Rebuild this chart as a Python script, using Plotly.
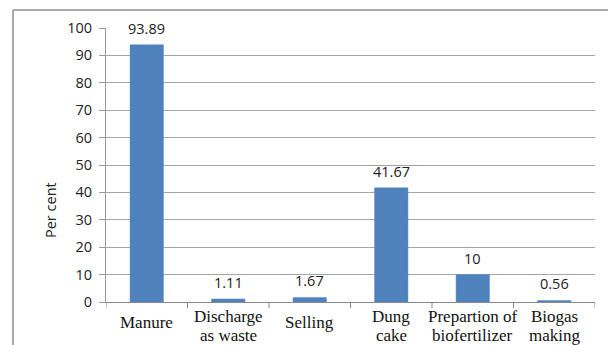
import plotly.graph_objects as go

categories = ["Manure", "Discharge<br>as waste", "Selling", "Dung<br>cake",
              "Prepartion of<br>biofertilizer", "Biogas<br>making"]
values = [93.89, 1.11, 1.67, 41.67, 10, 0.56]
value_labels = ["93.89", "1.11", "1.67", "41.67", "10", "0.56"]
y_ticks = [0, 10, 20, 30, 40, 50, 60, 70, 80, 90, 100]

W, H = 608, 345
L, R, T, B = 106, 13, 28, 43
pw, ph = W - L - R, H - T - B

fig = go.Figure()
fig.add_trace(go.Bar(
    x=list(range(len(categories))), y=values, width=0.41,
    marker=dict(color="#4f81bd", line=dict(color="#5b8cc6", width=0.5)),
    hoverinfo="skip", showlegend=False,
))
for i, (v, lab) in enumerate(zip(values, value_labels)):
    fig.add_annotation(x=i, y=v, text=lab, showarrow=False, yanchor="bottom",
                       yshift=5, font=dict(family="Open Sans", size=14.5, color="#222"))

# category labels, drawn line by line for tight line spacing
catfont = dict(family="Liberation Serif", size=17, color="#111")
for i, cat in enumerate(categories):
    lines = cat.split("<br>")
    if len(lines) == 1:
        centers = [322]
    else:
        centers = [316.5, 335]
    for ln, cy in zip(lines, centers):
        fig.add_annotation(x=i, xref="x", yref="paper", y=(302 - cy) / ph, text=ln,
                           showarrow=False, xanchor="center", yanchor="middle",
                           font=catfont)

fig.update_layout(
    width=W, height=H, margin=dict(l=L, r=R, t=T, b=B, pad=0),
    paper_bgcolor="white", plot_bgcolor="white",
    bargap=0.59,
)
fig.update_xaxes(
    tickmode="array", tickvals=list(range(len(categories))),
    ticktext=[""] * len(categories),
    range=[-0.5, len(categories) - 0.5], automargin=False,
    showline=True, linecolor="#888", linewidth=1,
    ticks="", showgrid=False, zeroline=False,
)
fig.update_yaxes(
    range=[0, 100], tickvals=y_ticks, ticks="outside", ticklen=6, tickcolor="#999",
    showline=True, linecolor="#999", linewidth=1, automargin=False,
    showgrid=True, gridcolor="#a6a6a6", gridwidth=1, zeroline=False,
    ticklabelstandoff=4,
    tickfont=dict(family="Open Sans", size=14.5, color="#222"),
)
fig.add_annotation(xref="paper", yref="paper", x=(50 - L) / pw, y=(302 - 210) / ph,
                   xanchor="center", yanchor="middle",
                   text="Per cent", textangle=-90, showarrow=False,
                   font=dict(family="Open Sans", size=14.5, color="#222"))
# category divider ticks below x axis
for k in range(len(categories) + 1):
    fig.add_shape(type="line", xref="x", yref="paper", x0=k - 0.5, x1=k - 0.5,
                  y0=0, y1=-6 / ph, line=dict(color="#888", width=1))
# outer frame
fx0 = (13 - L) / pw
fx1 = (W - L + 2) / pw
fy1 = 1 + (T - 10) / ph
fy0 = -(B + 2) / ph
fig.add_shape(type="line", xref="paper", yref="paper", x0=fx0, x1=fx0, y0=fy0, y1=fy1,
              line=dict(color="#8c8c8c", width=1.5))
fig.add_shape(type="line", xref="paper", yref="paper", x0=fx0, x1=fx1, y0=fy1, y1=fy1,
              line=dict(color="#8c8c8c", width=1.5))

fig.write_html("out.html")
